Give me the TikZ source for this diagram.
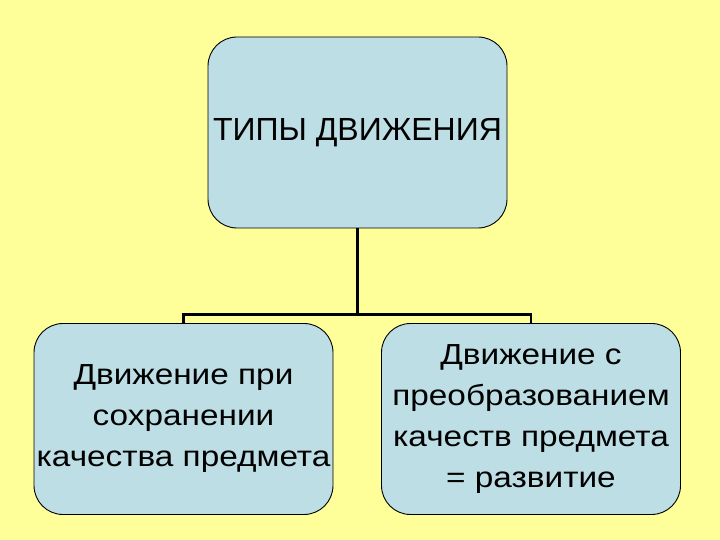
\documentclass[tikz,border=0pt]{standalone}
\usepackage{fontspec}
\setmainfont{Liberation Sans}
\newfontfamily\widesans[FakeStretch=1.15]{Liberation Sans}
\usepackage{tikz}
\usetikzlibrary{positioning}
\definecolor{pale}{RGB}{255,255,153}
\definecolor{sky}{RGB}{188,222,228}

\begin{document}
\begin{tikzpicture}[x=1pt, y=1pt,
  box/.style={draw, line width=0.9pt, rounded corners=29pt, fill=sky, minimum width=299pt, minimum height=191pt, align=center, inner sep=0pt},
  leaf/.style={box, font=\widesans\fontsize{29}{41}\selectfont}]
\fill[pale] (0,0) rectangle (720,540);
\useasboundingbox (0,0) rectangle (720,540);
\node[box, font=\fontsize{32}{38}\selectfont] (types) at (357.5,407.5) {ТИПЫ ДВИЖЕНИЯ};
\node[leaf] (keep) at (183.5,121) {Движение при\\ сохранении\\ качества предмета};
\node[leaf] (devel) at (531,121) {Движение с\\ преобразованием\\ качеств предмета\\ = развитие};
% tree connector
\draw[line width=2.2pt] (types.south) -- ++(0,-86) coordinate (fork);
\draw[line width=2.2pt] (keep.north) |- (fork) -| (devel.north);
\end{tikzpicture}
\end{document}
